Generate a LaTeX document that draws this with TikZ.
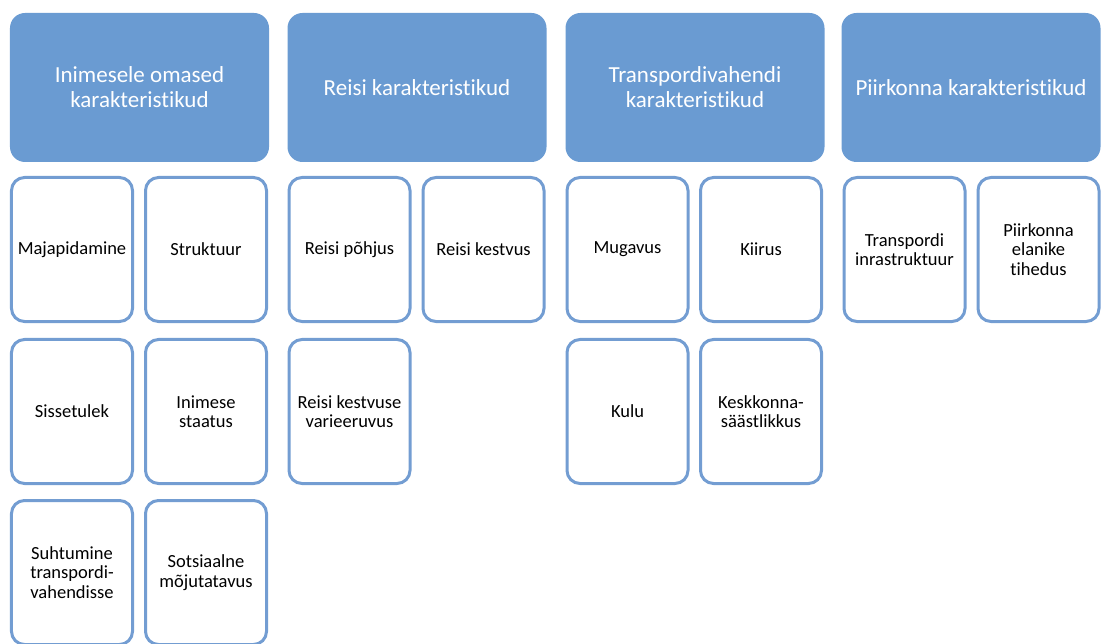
\documentclass[tikz,border=0pt]{standalone}
\usepackage{fontspec}
\setmainfont{Carlito}[Ligatures=NoCommon]
\definecolor{headblue}{HTML}{6A9BD2}
\definecolor{edgeblue}{HTML}{739DD2}

\begin{document}
\begin{tikzpicture}[x=1bp,y=-1bp,
		head/.style={fill=headblue,draw=none,rounded corners=15bp,minimum width=259bp,minimum height=149bp,
			text=white,align=center,font=\fontsize{23bp}{25bp}\selectfont,inner sep=0pt},
		item/.style={draw=edgeblue,line width=3bp,fill=white,rounded corners=13bp,minimum width=121bp,minimum height=144bp,
			align=center,font=\fontsize{18.5bp}{19.5bp}\selectfont,inner sep=0pt}]
		\useasboundingbox (0,0) rectangle (1102,644);
		\clip (0,0) rectangle (1102,644);
		% headers
		\node[head] (inimene) at (139.5,87.5) {Inimesele omased\\karakteristikud};
		\node[head] (reis) at (417,87.5) {Reisi karakteristikud};
		\node[head] (transport) at (695,87.5) {Transpordivahendi\\karakteristikud};
		\node[head] (piirkond) at (971,87.5) {Piirkonna karakteristikud};
		% Inimesele omased karakteristikud
		\node[item] (majapidamine) at (72,249.5) {Majapidamine};
		\node[item] (struktuur) at (206,249.5) {Struktuur};
		\node[item] (sissetulek) at (72,411.5) {Sissetulek};
		\node[item] (staatus) at (206,411.5) {Inimese\\staatus};
		\node[item] (suhtumine) at (72,572.5) {Suhtumine\\transpordi-\\vahendisse};
		\node[item] (mojutatavus) at (206,572.5) {Sotsiaalne\\mõjutatavus};
		% Reisi karakteristikud
		\node[item] (pohjus) at (349.5,249.5) {Reisi põhjus};
		\node[item] (kestvus) at (483.5,249.5) {Reisi kestvus};
		\node[item] (varieeruvus) at (349.5,411.5) {Reisi kestvuse\\varieeruvus};
		% Transpordivahendi karakteristikud
		\node[item] (mugavus) at (627.5,249.5) {Mugavus};
		\node[item] (kiirus) at (761,249.5) {Kiirus};
		\node[item] (kulu) at (627.5,411.5) {Kulu};
		\node[item] (saastlikkus) at (761,411.5) {Keskkonna-\\säästlikkus};
		% Piirkonna karakteristikud
		\node[item] (infra) at (904.5,249.5) {Transpordi\\inrastruktuur};
		\node[item] (tihedus) at (1038.5,249.5) {Piirkonna\\elanike\\tihedus};
\end{tikzpicture}
\end{document}
